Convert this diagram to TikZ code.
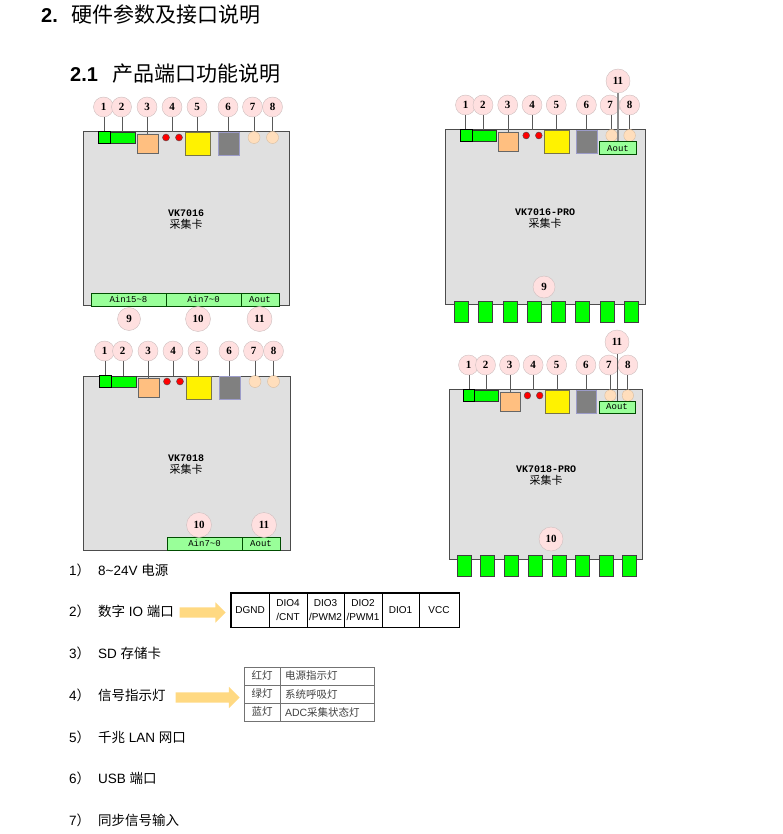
\documentclass[tikz,border=0pt]{standalone}
\usepackage{fontspec}
\setmainfont{Liberation Sans}
\newfontfamily\cjk{Noto Sans CJK SC}
\newfontfamily\serifnum{Liberation Serif}
\newfontfamily\monolabel{Liberation Mono}
\usetikzlibrary{shapes,positioning}
\definecolor{vkbody}{RGB}{224,224,224}
\definecolor{vkgreen}{RGB}{0,255,0}
\definecolor{vkain}{RGB}{153,255,153}
\definecolor{vkbadge}{RGB}{255,224,224}
\definecolor{vkrim}{RGB}{205,190,190}
\definecolor{vkpeach}{RGB}{255,222,188}
\definecolor{vkorange}{RGB}{255,191,128}
\definecolor{vkarrow}{RGB}{255,217,130}
\tikzset{
  body/.style={rectangle, draw=black!70, fill=vkbody, line width=1pt, inner sep=0pt, outer sep=0pt},
  part/.style={rectangle, inner sep=0pt, outer sep=0pt, transform shape},
  badge/.style={circle, draw=vkrim, fill=vkbadge, inner sep=0pt, minimum size=20pt, font=\serifnum\bfseries\fontsize{11}{11}\selectfont},
  wire/.style={draw=black!65, line width=1pt},
  pin/.style={rectangle, draw=black!75, fill=vkgreen, line width=1pt, minimum width=14pt, minimum height=21pt, inner sep=0pt},
  ainbox/.style={rectangle, draw=black!70!green, fill=vkain, line width=1pt, minimum height=13pt, inner sep=0pt, font=\monolabel\fontsize{9}{9}\selectfont},
  cardname/.style={inner sep=0pt, font=\monolabel\bfseries\fontsize{10}{10}\selectfont},
  cardsub/.style={inner sep=0pt, font=\cjk\fontsize{11}{11}\selectfont},
  headtext/.style={anchor=west, inner sep=0pt, font=\bfseries\fontsize{20}{20}\selectfont},
  headcjk/.style={anchor=west, inner sep=0pt, font=\cjk\fontsize{21}{21}\selectfont},
  listtext/.style={anchor=west, inner sep=0pt, font=\fontsize{13.5}{14}\selectfont},
  iocell/.style={rectangle, draw=black, line width=.8pt, minimum height=34pt, inner sep=0pt, align=center, font=\fontsize{10}{14}\selectfont},
  ledcell/.style={rectangle, draw=black!55, line width=.8pt, minimum height=18pt, inner sep=0pt, text=black!75, font=\cjk\fontsize{10.5}{12}\selectfont},
  ledvalue/.style={ledcell, align=left, text width=84pt, inner xsep=5pt},
  blockarrow/.style={single arrow, fill=vkarrow, inner xsep=0pt, inner ysep=5pt, single arrow head extend=5pt, single arrow tip angle=90},
}
\begin{document}
\begin{tikzpicture}[x=1pt,y=-1pt]
\useasboundingbox (0,0) rectangle (782,834);

% Headings
\node[headtext] (h2) at (41,15.5) {2.};
\node[headcjk] (h2t) at (71,15) {硬件参数及接口说明};
\node[headtext] (h21) at (70,74.5) {2.1};
\node[headcjk] (h21t) at (112,74) {产品端口功能说明};

% Board outlines
\node[body, minimum width=206pt, minimum height=173pt] (bodya) at (186,218.5) {};
\node[body, minimum width=200pt, minimum height=174pt] (bodyb) at (545,217) {};
\node[body, minimum width=207pt, minimum height=174pt] (bodyc) at (186.5,463) {};
\node[body, minimum width=193pt, minimum height=170pt] (bodyd) at (545.5,474) {};

% Top row of each board, drawn in the coordinates of the first one
\foreach \c/\dx/\dy/\sx/\by in {a/0/0/1/107, b/365/-2/.971/105, c/1/244/1/351, d/371/258/.9425/365}{
  \begin{scope}[shift={(\dx,\dy)},xscale=\sx]
    \node[part, draw=black!80, fill=vkgreen, minimum width=25pt, minimum height=11pt] (\c two) at (122.5,137.5) {};
    \node[part, draw=black, fill=vkgreen, minimum width=12pt, minimum height=12pt] (\c one) at (104,137) {};
    \node[part, draw=black!60, fill=vkorange, minimum width=21pt, minimum height=19pt] (\c three) at (147.5,143.5) {};
    \node[part, circle, draw=black!70, fill=red, minimum size=7pt] (\c ledl) at (166,137.5) {};
    \node[part, circle, draw=black!70, fill=red, minimum size=7pt] (\c ledr) at (179,137.5) {};
    \node[part, draw=black!60!yellow, fill=yellow, minimum width=25pt, minimum height=23pt] (\c five) at (197.5,143.5) {};
    \node[part, draw=blue!30!gray!60, fill=black!50, minimum width=21pt, minimum height=23pt] (\c six) at (228.5,143.5) {};
    \node[part, circle, draw=vkpeach!85!black, fill=vkpeach, minimum size=12pt] (\c seven) at (254,137.5) {};
    \node[part, circle, draw=vkpeach!85!black, fill=vkpeach, minimum size=12pt] (\c eight) at (272.5,137.5) {};
    \coordinate (\c fourend) at (172,132);
    \node[badge] (\c n1) at (103.5,\by-\dy) {1};
    \node[badge] (\c n2) at (121.5,\by-\dy) {2};
    \node[badge] (\c n3) at (147,\by-\dy) {3};
    \node[badge] (\c n4) at (172,\by-\dy) {4};
    \node[badge] (\c n5) at (197,\by-\dy) {5};
    \node[badge] (\c n6) at (228,\by-\dy) {6};
    \node[badge] (\c n7) at (252.5,\by-\dy) {7};
    \node[badge] (\c n8) at (272.5,\by-\dy) {8};
    \draw[wire] (\c one.north |- \c n1.south) -- (\c one.north);
    \draw[wire] (\c two.north |- \c n2.south) -- (\c two.north);
    \draw[wire] (\c three.north |- \c n3.south) -- (\c three.north);
    \draw[wire] (\c n4.south) -- (\c fourend);
    \draw[wire] (\c five.north |- \c n5.south) -- (\c five.north);
    \draw[wire] (\c six.north |- \c n6.south) -- (\c six.north);
    \draw[wire] (\c seven.north |- \c n7.south) -- (\c seven.north);
    \draw[wire] (\c eight.north |- \c n8.south) -- (\c eight.north);
  \end{scope}
}

% Board names
\node[cardname] (namea) at (186,213) {VK7016};
\node[cardsub] (suba) at (186,224) {采集卡};
\node[cardname] (nameb) at (545,212) {VK7016-PRO};
\node[cardsub] (subb) at (545,223) {采集卡};
\node[cardname] (namec) at (186,458) {VK7018};
\node[cardsub] (subc) at (186,469) {采集卡};
\node[cardname] (named) at (546,469) {VK7018-PRO};
\node[cardsub] (subd) at (546,480) {采集卡};

% VK7016 connectors
\node[ainbox, minimum width=75pt] (ainah) at (128.5,299.5) {Ain15\char`\~8};
\node[ainbox, minimum width=75pt] (ainal) at (203.5,299.5) {Ain7\char`\~0};
\node[ainbox, minimum width=38pt] (aouta) at (260,299.5) {Aout};
\node[badge, minimum size=23pt] (a9) at (129,319) {9};
\node[badge, minimum size=25pt] (a10) at (198,319) {10};
\node[badge, minimum size=25pt] (a11) at (259.5,319) {11};

% VK7018 connectors
\node[ainbox, minimum width=75pt] (ainc) at (204.5,543.5) {Ain7\char`\~0};
\node[ainbox, minimum width=38pt] (aoutc) at (261,543.5) {Aout};
\node[badge, minimum size=25pt] (c10) at (199,525) {10};
\node[badge, minimum size=25pt] (c11) at (264,525) {11};

% PRO boards
\foreach \i/\x in {1/461,2/485,3/510,4/534,5/558,6/582,7/607,8/631}
  \node[pin] (pinb\i) at (\x,311.5) {};
\foreach \i/\x in {1/464,2/487,3/511,4/535,5/559,6/582,7/606,8/629}
  \node[pin] (pind\i) at (\x,565.5) {};
\node[badge, minimum size=22pt] (b9) at (544,287) {9};
\node[badge, minimum size=24pt] (d10) at (551,539) {10};

\node[ainbox, minimum width=37pt] (aoutb) at (618,148.5) {Aout};
\node[badge, minimum size=24pt] (b11) at (618,81) {11};
\draw[wire, draw=black!45, line width=1.5pt] (b11) -- (aoutb);
\node[ainbox, minimum width=36pt, minimum height=12pt] (aoutd) at (617,407) {Aout};
\node[badge, minimum size=24pt] (d11) at (617,342) {11};
\draw[wire] (d11) -- (aoutd);

% Port list
\foreach \i/\y/\t in {1/570/8\textasciitilde 24V {\cjk 电源},
                      2/611/{\cjk 数字} IO {\cjk 端口},
                      3/653/SD {\cjk 存储卡},
                      4/695/{\cjk 信号指示灯},
                      5/737/{\cjk 千兆} LAN {\cjk 网口},
                      6/778/USB {\cjk 端口},
                      7/820/{\cjk 同步信号输入}}{
  \node[listtext] (num\i) at (69,\y) {\i{\cjk ）}};
  \node[listtext] (item\i) at (98,\y) {\t};
}

% Digital IO terminal
\node[blockarrow, minimum height=46pt] (arrowio) at (200,612.5) {};
\node[iocell, minimum width=38pt] (dgnd) at (250,610) {DGND};
\node[iocell, minimum width=38pt] (dio4) at (288,610) {DIO4\\/CNT};
\node[iocell, minimum width=37pt] (dio3) at (325.5,610) {DIO3\\/PWM2};
\node[iocell, minimum width=38pt] (dio2) at (363,610) {DIO2\\/PWM1};
\node[iocell, minimum width=37pt] (dio1) at (400.5,610) {DIO1};
\node[iocell, minimum width=40pt] (vcc) at (439,610) {VCC};
\draw[line width=1.8pt] (dgnd.north west) rectangle (vcc.south east);

% LED table
\node[blockarrow, minimum height=64pt, single arrow head extend=5.5pt] (arrowled) at (205,697.5) {};
\node[ledcell, minimum width=36pt] (redk) at (262,676) {红灯};
\node[ledvalue] (redv) at (327,676) {电源指示灯};
\node[ledcell, minimum width=36pt] (greenk) at (262,694) {绿灯};
\node[ledvalue] (greenv) at (327,694) {系统呼吸灯};
\node[ledcell, minimum width=36pt] (bluek) at (262,712) {蓝灯};
\node[ledvalue] (bluev) at (327,712) {{\normalfont ADC}采集状态灯};
\end{tikzpicture}
\end{document}
